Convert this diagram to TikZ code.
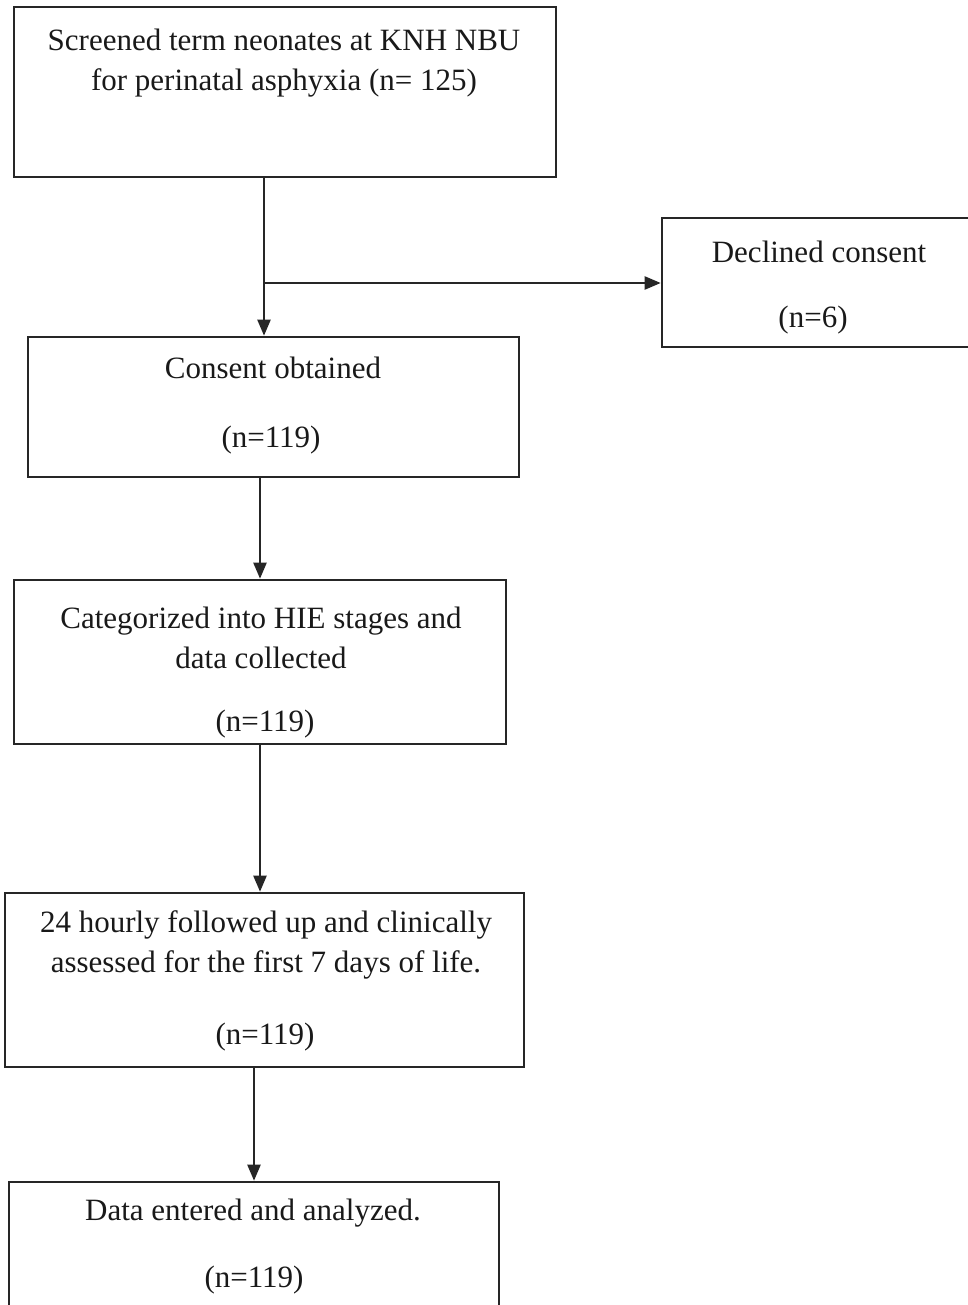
\documentclass[tikz,border=0pt]{standalone}
\usepackage{fontspec}
\setmainfont{Liberation Serif}
\usetikzlibrary{arrows.meta}

\begin{document}
\begin{tikzpicture}[x=1pt,y=-1pt,
        box/.style={draw=black!85,line width=2.6pt,rectangle,inner sep=0pt},
        txt/.style={text=black!90,align=center,inner sep=0pt,font=\fontsize{31}{40}\selectfont},
        link/.style={line width=2.2pt,black!85,->},
        >={Triangle[length=16pt,width=13pt]}]
        \useasboundingbox (0,0) rectangle (968,1305);
        \clip (0,0) rectangle (968,1305);
        \node[box,minimum width=542,minimum height=170] (screen) at (285,92) {};
        \node[box,minimum width=313,minimum height=129] (declined) at (818.5,282.5) {};
        \node[box,minimum width=491,minimum height=140] (consent) at (273.5,407) {};
        \node[box,minimum width=492,minimum height=164] (categ) at (260,662) {};
        \node[box,minimum width=519,minimum height=174] (follow) at (264.5,980) {};
        \node[box,minimum width=490,minimum height=148] (data) at (254,1256) {};
        \node[txt] (screen-t) at (284,63) {Screened term neonates at KNH NBU\\for perinatal asphyxia (n= 125)};
        \node[txt] (declined-t) at (819,252) {Declined consent};
        \node[txt] (declined-n) at (813,320) {(n=6)};
        \node[txt] (consent-t) at (273,368) {Consent obtained};
        \node[txt] (consent-n) at (271,440) {(n=119)};
        \node[txt] (categ-t) at (261,638) {Categorized into HIE stages and\\data collected};
        \node[txt] (categ-n) at (265,724) {(n=119)};
        \node[txt] (follow-t) at (266,945) {24 hourly followed up and clinically\\assessed for the first 7 days of life.};
        \node[txt] (follow-n) at (265,1037) {(n=119)};
        \node[txt] (data-t) at (253,1213) {Data entered and analyzed.};
        \node[txt] (data-n) at (254,1280) {(n=119)};
        \coordinate (split) at (264,283);
        \draw[link] (screen.south -| split) -- (consent.north -| split);
        \draw[link] (split) -- (split -| declined.west);
        \draw[link] (consent.south -| categ.north) -- (categ.north);
        \draw[link] (categ.south) -- (categ.south |- follow.north);
        \draw[link] (follow.south -| data.north) -- (data.north);
    \end{tikzpicture}
\end{document}
